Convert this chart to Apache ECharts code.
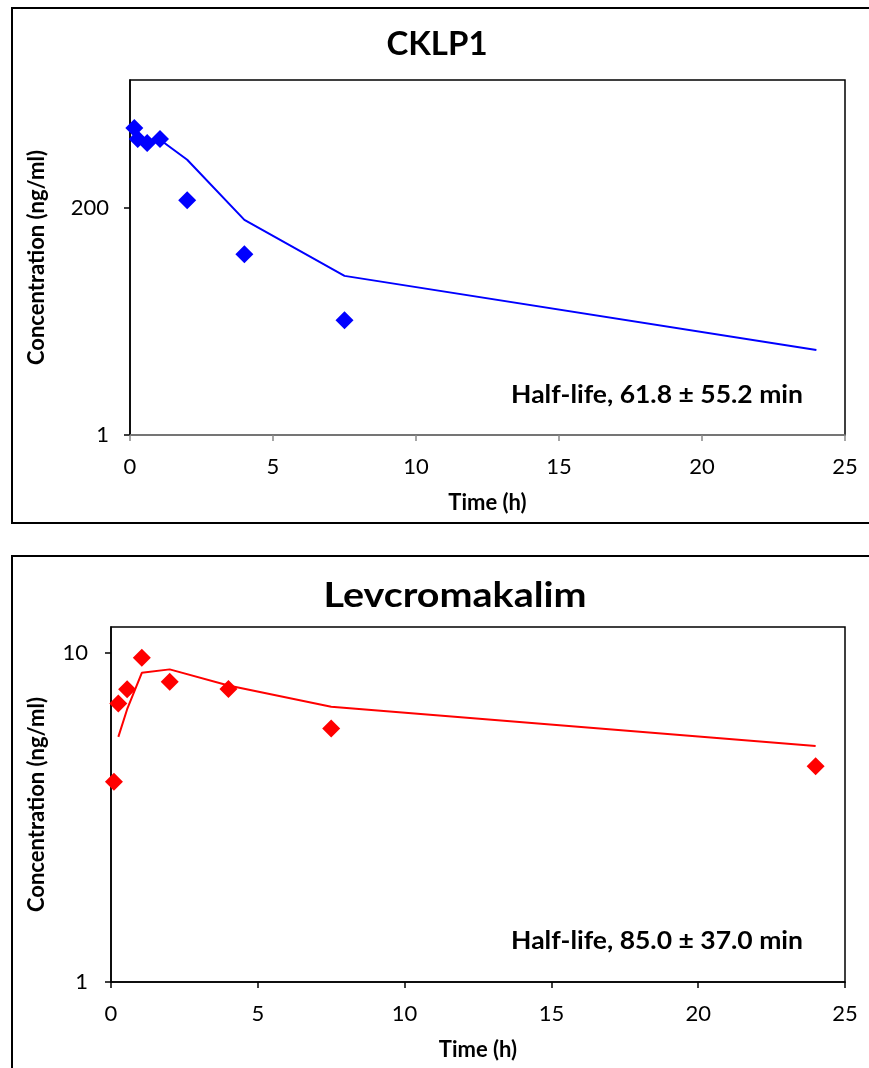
<!DOCTYPE html>
<html><head><meta charset="utf-8">
<script src="https://cdn.jsdelivr.net/npm/echarts@6/dist/echarts.min.js"></script>
<style>html,body{margin:0;padding:0;background:#fff}#c{width:869px;height:1068px}</style>
</head><body><div id="c"></div>
<script>
// ---- data ----
const titles = ['CKLP1', 'Levcromakalim'];
const halfLifeLabels = ['Half-life, 61.8 \u00b1 55.2 min', 'Half-life, 85.0 \u00b1 37.0 min'];
const xAxisName = 'Time (h)';
const yAxisName = 'Concentration (ng/ml)';

// CKLP1 (ng/ml)
const cklpTimes = [0.15, 0.27, 0.6, 1.05, 2, 4, 7.5];
const cklpObserved = [1274, 985, 897, 985, 237, 67.2, 14.5];
const cklpFitTimes = [0.27, 0.6, 1.05, 2, 4, 7.5, 24];
const cklpFit = [985, 960, 969, 608, 150, 40.7, 7.25];

// Levcromakalim (ng/ml)
const levTimes = [0.1, 0.25, 0.55, 1.05, 2, 4, 7.5, 24];
const levObserved = [4.06, 7.03, 7.76, 9.68, 8.18, 7.77, 5.90, 4.53];
const levFitTimes = [0.25, 0.55, 1.05, 2, 4, 7.5, 24];
const levFit = [5.56, 6.75, 8.71, 8.92, 7.97, 6.87, 5.22];

const pairs = (xs, ys) => xs.map((x, i) => [x, ys[i]]);

const FONT = 'Lato, "Open Sans", "Noto Sans", sans-serif';
const chart = echarts.init(document.getElementById('c'), null, {renderer: 'canvas'});

function xAxisCfg(gridIndex, lineColor) {
  return {
    gridIndex, type: 'value', min: 0, max: 25, interval: 5,
    name: xAxisName, nameLocation: 'middle', nameGap: 57,
    nameTextStyle: {fontFamily: FONT, fontWeight: 'bold', fontSize: 22, color: '#000'},
    axisLine: {show: true, lineStyle: {color: lineColor, width: 1.5}},
    axisTick: {show: true, length: 6, lineStyle: {color: lineColor, width: 1.5}},
    axisLabel: {fontFamily: FONT, fontSize: 22, color: '#000', margin: 21},
    splitLine: {show: false}
  };
}
function yAxisCfg(gridIndex, base, max, nameGap, margin) {
  return {
    gridIndex, type: 'log', logBase: base, min: 1, max: max,
    name: yAxisName, nameLocation: 'middle', nameGap: nameGap, nameRotate: 90,
    nameTextStyle: {fontFamily: FONT, fontWeight: 'bold', fontSize: 22, color: '#000'},
    axisLine: {show: true, lineStyle: {color: '#000', width: 1.5}},
    axisTick: {show: true, length: 6, lineStyle: {color: '#000', width: 1.5}},
    axisLabel: {fontFamily: FONT, fontSize: 22, color: '#000', margin: margin, showMaxLabel: false, showMinLabel: true},
    splitLine: {show: false},
    minorTick: {show: false}
  };
}

const option = {
  animation: false,
  backgroundColor: '#fff',
  grid: [
    {left: 130, top: 80, width: 715, height: 355, show: true, borderColor: '#000', borderWidth: 1.5, backgroundColor: 'transparent'},
    {left: 111, top: 627, width: 734, height: 355, show: true, borderColor: '#000', borderWidth: 1.5, backgroundColor: 'transparent'}
  ],
  xAxis: [xAxisCfg(0, '#888'), xAxisCfg(1, '#000')],
  yAxis: [yAxisCfg(0, 200, 3900, 82, 21), yAxisCfg(1, 10, 12, 63, 23)],
  series: [
    {type: 'line', xAxisIndex: 0, yAxisIndex: 0, data: pairs(cklpFitTimes, cklpFit), showSymbol: false, symbol: 'none',
     lineStyle: {color: '#0000ff', width: 2}, z: 1},
    {type: 'scatter', xAxisIndex: 0, yAxisIndex: 0, data: pairs(cklpTimes, cklpObserved), symbol: 'diamond', symbolSize: 18,
     itemStyle: {color: '#0000ff', opacity: 1}, z: 2},
    {type: 'line', xAxisIndex: 1, yAxisIndex: 1, data: pairs(levFitTimes, levFit), showSymbol: false, symbol: 'none',
     lineStyle: {color: '#ff0000', width: 2}, z: 1},
    {type: 'scatter', xAxisIndex: 1, yAxisIndex: 1, data: pairs(levTimes, levObserved), symbol: 'diamond', symbolSize: 18,
     itemStyle: {color: '#ff0000', opacity: 1}, z: 2}
  ],
  graphic: [
    {type: 'rect', shape: {x: 12, y: 8, width: 900, height: 515}, style: {fill: 'none', stroke: '#000', lineWidth: 2}, z: 0},
    {type: 'rect', shape: {x: 12, y: 556, width: 900, height: 600}, style: {fill: 'none', stroke: '#000', lineWidth: 2}, z: 0},
    {type: 'text', x: 437, y: 44, style: {text: titles[0], font: 'bold 33px ' + FONT, fill: '#000', textAlign: 'center', textVerticalAlign: 'middle'}},
    {type: 'text', x: 455, y: 596, scaleX: 1.16, style: {text: titles[1], font: 'bold 34px ' + FONT, fill: '#000', textAlign: 'center', textVerticalAlign: 'middle'}},
    {type: 'text', x: 803, y: 395, scaleX: 1.06, style: {text: halfLifeLabels[0], font: 'bold 25px ' + FONT, fill: '#000', textAlign: 'right', textVerticalAlign: 'middle'}},
    {type: 'text', x: 803, y: 941, scaleX: 1.06, style: {text: halfLifeLabels[1], font: 'bold 25px ' + FONT, fill: '#000', textAlign: 'right', textVerticalAlign: 'middle'}}
  ]
};
chart.setOption(option);
</script>
</body></html>
